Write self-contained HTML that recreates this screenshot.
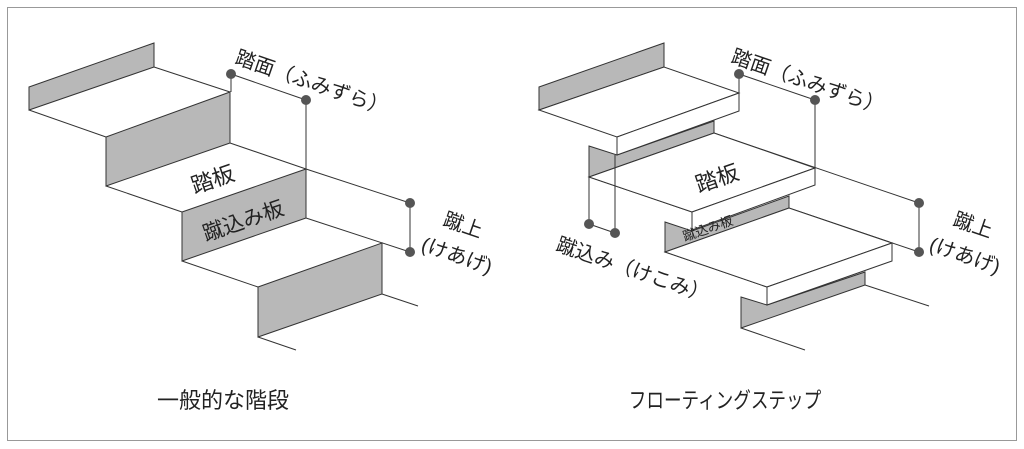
<!DOCTYPE html>
<html><head><meta charset="utf-8"><style>
html,body{margin:0;padding:0;background:#fff;}
svg{display:block;}
text{font-family:"Liberation Sans","Noto Sans CJK JP",sans-serif;fill:#222;}
</style></head><body>
<svg width="1024" height="449" viewBox="0 0 1024 449" xmlns="http://www.w3.org/2000/svg">
<rect x="7.5" y="7.5" width="1009" height="433" fill="#fff" stroke="#999" stroke-width="1"/>
<g stroke="#333" stroke-width="1" fill="none">
<!-- LEFT -->
<polygon points="29,87 154,43 154,67 29,110" fill="#b8b8b8"/>
<line x1="29" y1="110" x2="106" y2="137"/><line x1="154" y1="67" x2="230" y2="92"/>
<polygon points="106,137 230,92 230,143 106,186" fill="#b8b8b8"/>
<line x1="106" y1="186" x2="182" y2="212"/><line x1="230" y1="143" x2="306" y2="169"/>
<polygon points="182,212 306,169 306,218 182,261" fill="#b8b8b8"/>
<line x1="182" y1="261" x2="258" y2="287"/><line x1="306" y1="218" x2="410" y2="252"/>
<polygon points="258,287 382,243 382,294 258,337" fill="#b8b8b8"/>
<line x1="382" y1="294" x2="418" y2="306"/><line x1="258" y1="337" x2="296" y2="350"/>
<line x1="231" y1="74" x2="306" y2="100"/><line x1="231" y1="74" x2="231" y2="92"/>
<line x1="306" y1="100" x2="306" y2="169"/><line x1="306" y1="169" x2="410" y2="203"/>
<line x1="410" y1="203" x2="410" y2="252"/>
<!-- RIGHT -->
<polygon points="539,87 664,43 664,67 539,110" fill="#b8b8b8"/>
<polygon points="589,146 617,155 714,121 714,133 589,177" fill="#b8b8b8"/>
<polygon points="539,110 664,67 739,93 617,137" fill="#fff"/>
<polygon points="617,137 739,93 739,111 617,155" fill="#fff"/>
<line x1="589" y1="177" x2="692" y2="212"/><line x1="714" y1="133" x2="919" y2="203"/>
<polygon points="665,222 692,231 789,196 789,208 665,252" fill="#b8b8b8"/>
<polygon points="589,177 714,133 815,168 692,212" fill="#fff"/>
<polygon points="692,212 815,168 815,185 692,230" fill="#fff"/>
<line x1="665" y1="252" x2="767" y2="287"/><line x1="789" y1="208" x2="919" y2="252"/>
<polygon points="741,297 767,305 865,272 865,285 741,328" fill="#b8b8b8"/>
<polygon points="665,252 789,208 892,243 767,287" fill="#fff"/>
<polygon points="767,287 892,243 892,261 767,305" fill="#fff"/>
<line x1="865" y1="285" x2="929" y2="306"/><line x1="741" y1="328" x2="805" y2="350"/>
<line x1="739" y1="74" x2="815" y2="100"/><line x1="739" y1="74" x2="739" y2="93"/>
<line x1="815" y1="100" x2="815" y2="168"/>
<line x1="919" y1="203" x2="919" y2="252"/>
<line x1="589" y1="177" x2="589" y2="224"/><line x1="615" y1="155" x2="615" y2="233"/>
<line x1="589" y1="224" x2="615" y2="233"/>
</g>
<g fill="#555">
<circle cx="231" cy="74" r="5"/><circle cx="306" cy="100" r="5"/>
<circle cx="410" cy="203" r="5"/><circle cx="410" cy="252" r="5"/>
<circle cx="739" cy="74" r="5"/><circle cx="815" cy="100" r="5"/>
<circle cx="919" cy="203" r="5"/><circle cx="919" cy="252" r="5"/>
<circle cx="589" cy="224" r="5"/><circle cx="615" cy="233" r="5"/>
</g>
<g font-size="20">
<text x="234" y="63" transform="rotate(19 234 63)">踏面（ふみずら）</text>
<text x="213" y="187" text-anchor="middle" font-size="22" transform="rotate(-19 213 180)">踏板</text>
<text x="243" y="228" text-anchor="middle" font-size="21" transform="rotate(-19 243 220)">蹴込み板</text>
<text x="442" y="225" transform="rotate(19 442 225)">蹴上</text>
<text x="420" y="250" transform="rotate(19 420 250)">(けあげ)</text>
<text x="730" y="62" transform="rotate(19 730 62)">踏面（ふみずら）</text>
<text x="717" y="186" text-anchor="middle" font-size="22" transform="rotate(-19 717 178)">踏板</text>
<text x="708" y="233" text-anchor="middle" font-size="13" transform="rotate(-19 708 229)">蹴込み板</text>
<text x="952" y="225" transform="rotate(19 952 225)">蹴上</text>
<text x="928" y="250" transform="rotate(19 928 250)">(けあげ)</text>
<text x="555" y="250" transform="rotate(19 555 250)">蹴込み（けこみ）</text>
<text x="223" y="408" text-anchor="middle" font-size="22">一般的な階段</text>
<text x="725" y="408" text-anchor="middle" font-size="22" transform="translate(725 0) scale(0.8 1) translate(-725 0)">フローティングステップ</text>
</g>
</svg>
</body></html>
